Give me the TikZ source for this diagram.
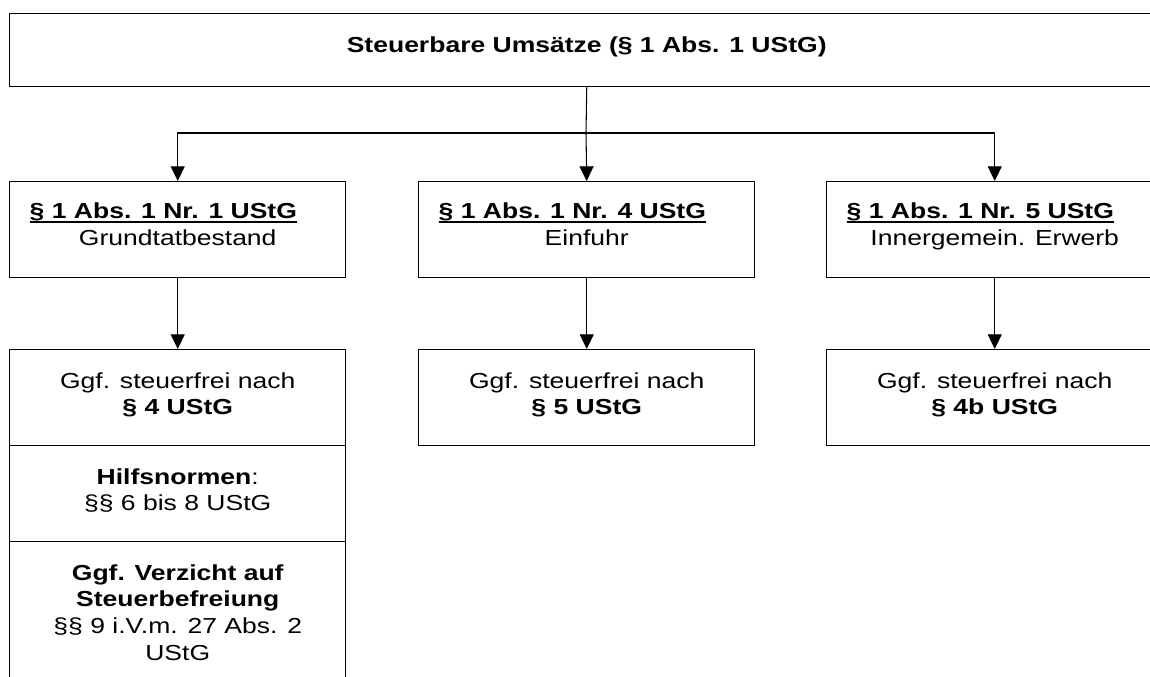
\documentclass[tikz,border=0pt]{standalone}
\usepackage{fontspec}
\setmainfont{Liberation Sans}[FakeStretch=1.22]
\usetikzlibrary{arrows.meta}
\tikzstyle{box} = [draw, line width=1.1pt, inner sep=0pt, anchor=north west, font=\fontsize{16.3}{20}\selectfont]
\tikzstyle{arrow} = [line width=0.8pt, -{Triangle[length=11pt, width=10.5pt]}]
\newcommand{\boxtext}[3]{\parbox[t][#2][t]{#1}{\centering\rule{0pt}{28.9pt}#3}}
\newcommand{\heading}[1]{\sbox0{\textbf{#1}}\rlap{\rule[-3.4pt]{\wd0}{1.4pt}}\usebox0}
\newcommand{\headtext}[2]{\parbox[t][72pt][t]{252pt}{\raggedright\rule{0pt}{27.5pt}\hspace*{15pt}\heading{#1}\\\makebox[\linewidth]{#2}}}

\begin{document}
\begin{tikzpicture}[x=0.75pt, y=-0.75pt]
        \useasboundingbox (0,0) rectangle (1150,676);

        \node[box] (11) at (9,13) {\boxtext{865.5pt}{54.75pt}{\textbf{Steuerbare Umsätze (§ 1 Abs. 1 UStG)}}};

        \node[box] (21) at (9,181) {\headtext{§ 1 Abs. 1 Nr. 1 UStG}{Grundtatbestand}};
        \node[box] (22) at (418,181) {\headtext{§ 1 Abs. 1 Nr. 4 UStG}{Einfuhr}};
        \node[box] (23) at (826,181) {\headtext{§ 1 Abs. 1 Nr. 5 UStG}{Innergemein. Erwerb}};

        \node[box] (31) at (9,349) {\boxtext{252pt}{72pt}{Ggf. steuerfrei nach\\\textbf{§ 4 UStG}}};
        \node[box] (32) at (418,349) {\boxtext{252pt}{72pt}{Ggf. steuerfrei nach\\\textbf{§ 5 UStG}}};
        \node[box] (33) at (826,349) {\boxtext{252pt}{72pt}{Ggf. steuerfrei nach\\\textbf{§ 4b UStG}}};

        \node[box] (41) at (9,445) {\boxtext{252pt}{72pt}{\textbf{Hilfsnormen}:\\§§ 6 bis 8 UStG}};
        \node[box] (51) at (9,541) {\boxtext{252pt}{105pt}{\textbf{Ggf. Verzicht auf}\\\textbf{Steuerbefreiung}\\§§ 9 i.V.m. 27 Abs. 2\\UStG}};

        \coordinate (fork) at (586,133);
        \draw[line width=0.8pt] (11.south) -- (fork);
        \draw[arrow] (fork) -| (21.north);
        \draw[arrow] (fork) -- (22.north);
        \draw[arrow] (fork) -| (23.north);

        \draw[arrow] (21.south) -- (31.north);
        \draw[arrow] (22.south) -- (32.north);
        \draw[arrow] (23.south) -- (33.north);
    \end{tikzpicture}
\end{document}
